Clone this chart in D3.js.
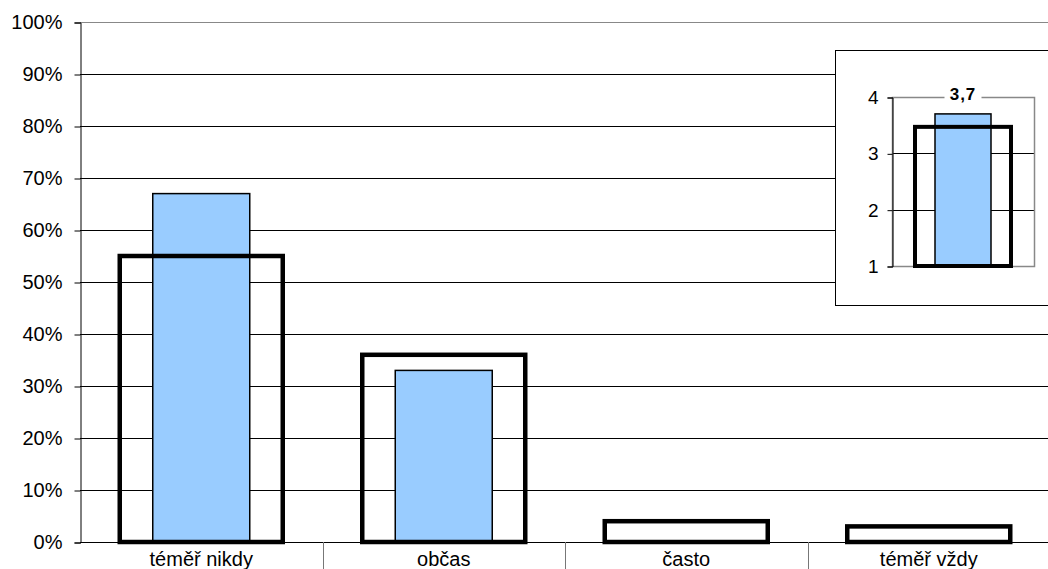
<!DOCTYPE html>
<html><head><meta charset="utf-8">
<script src="https://cdn.jsdelivr.net/npm/d3@7"></script>
<style>body{margin:0;background:#fff}svg{display:block}text{font-family:"Liberation Sans",Arial,sans-serif}</style>
</head><body><svg id="c" width="1048" height="569"></svg>
<script>
const categories = ["téměř nikdy","občas","často","téměř vždy"];
const blueValues = [67,33,0,0];
const outlineValues = [55,36,4,3];
const yTicks = [0,10,20,30,40,50,60,70,80,90,100];
const insetBlue = 3.7;
const insetOutline = 3.47;
const insetLabel = "3,7";
const insetTicks = [1,2,3,4];

const svg = d3.select("#c");
const L=80, R=1050, T=22, B=542;
const x = d3.scaleBand().domain(categories).range([L,R]);
const y = d3.scaleLinear().domain([0,100]).range([B,T]);

// gridlines
svg.append("g").selectAll("line").data(yTicks.filter(d=>d>0)).join("line")
  .attr("x1",L).attr("x2",R).attr("y1",d=>y(d)+0.5).attr("y2",d=>y(d)+0.5)
  .attr("stroke",d=>d===100?"#888":"#000").attr("stroke-width",1);

// y axis
const ya = svg.append("g").attr("transform",`translate(${L+0.5},0.5)`)
  .call(d3.axisLeft(y).tickValues(yTicks).tickFormat(d=>d+"%").tickSize(6).tickPadding(12));
ya.select(".domain").attr("stroke","#000");
ya.selectAll("line").attr("stroke","#000");
ya.selectAll("text").attr("font-size",20).attr("fill","#000").style("font-family","Liberation Sans, Arial, sans-serif");

// blue bars
const bw = 97, ow = 163;
svg.append("g").selectAll("rect").data(categories).join("rect")
  .filter((d,i)=>blueValues[i]>0)
  .attr("x",d=>x(d)+x.bandwidth()/2-bw/2)
  .attr("y",(d)=>y(blueValues[categories.indexOf(d)]))
  .attr("width",bw)
  .attr("height",d=>B-y(blueValues[categories.indexOf(d)]))
  .attr("fill","#99ccff").attr("stroke","#000").attr("stroke-width",1.5);

// outline bars
svg.append("g").selectAll("rect").data(categories).join("rect")
  .attr("x",d=>x(d)+x.bandwidth()/2-ow/2)
  .attr("y",d=>y(outlineValues[categories.indexOf(d)]))
  .attr("width",ow)
  .attr("height",d=>B-y(outlineValues[categories.indexOf(d)]))
  .attr("fill","none").attr("stroke","#000").attr("stroke-width",4.5);

// x axis
svg.append("line").attr("x1",L).attr("x2",R).attr("y1",B+0.5).attr("y2",B+0.5).attr("stroke","#000");
svg.append("g").selectAll("line").data(categories.slice(1)).join("line")
  .attr("x1",d=>Math.round(x(d))+0.5).attr("x2",d=>Math.round(x(d))+0.5)
  .attr("y1",B).attr("y2",569).attr("stroke","#777");
svg.append("g").selectAll("text").data(categories).join("text")
  .attr("x",d=>x(d)+x.bandwidth()/2).attr("y",566).attr("text-anchor","middle")
  .attr("font-size",20).attr("fill","#000").text(d=>d);

// inset
const ig = svg.append("g");
ig.append("rect").attr("x",835.5).attr("y",50.5).attr("width",260).attr("height",255)
  .attr("fill","#fff").attr("stroke","#000").attr("stroke-width",1);
const iL=892, iR=1034, iT=97, iB=266;
const iy = d3.scaleLinear().domain([1,4]).range([iB,iT]);
const ix = d3.scaleBand().domain(["a"]).range([iL,iR]);
ig.append("g").selectAll("line").data([2,3]).join("line")
  .attr("x1",iL).attr("x2",iR).attr("y1",d=>Math.round(iy(d))+0.5).attr("y2",d=>Math.round(iy(d))+0.5).attr("stroke","#000");
ig.append("rect").attr("x",iL+0.5).attr("y",iT+0.5).attr("width",iR-iL).attr("height",iB-iT)
  .attr("fill","none").attr("stroke","#888").attr("stroke-width",1.5);
const icx = ix("a")+ix.bandwidth()/2;
ig.append("rect").attr("x",icx-28).attr("y",iy(insetBlue)).attr("width",56)
  .attr("height",iB-iy(insetBlue)).attr("fill","#99ccff").attr("stroke","#000").attr("stroke-width",1.5);
ig.append("rect").attr("x",icx-48).attr("y",iy(insetOutline)).attr("width",96)
  .attr("height",iB-iy(insetOutline)).attr("fill","none").attr("stroke","#000").attr("stroke-width",4);
const iya = ig.append("g").attr("transform",`translate(${iL+0.5},0.5)`)
  .call(d3.axisLeft(iy).tickValues(insetTicks).tickFormat(d3.format("d")).tickSize(5).tickPadding(9));
iya.select(".domain").attr("stroke","#000");
iya.selectAll("line").attr("stroke","#000");
iya.selectAll("text").attr("font-size",19).attr("fill","#000").style("font-family","Liberation Sans, Arial, sans-serif");
ig.append("rect").attr("x",icx-18.5).attr("y",iT-8).attr("width",37).attr("height",12).attr("fill","#fff");
ig.append("text").attr("x",icx).attr("y",iT+3).attr("text-anchor","middle")
  .attr("font-size",17).attr("letter-spacing",1).attr("font-weight","bold").attr("fill","#000").text(insetLabel);
</script></body></html>
